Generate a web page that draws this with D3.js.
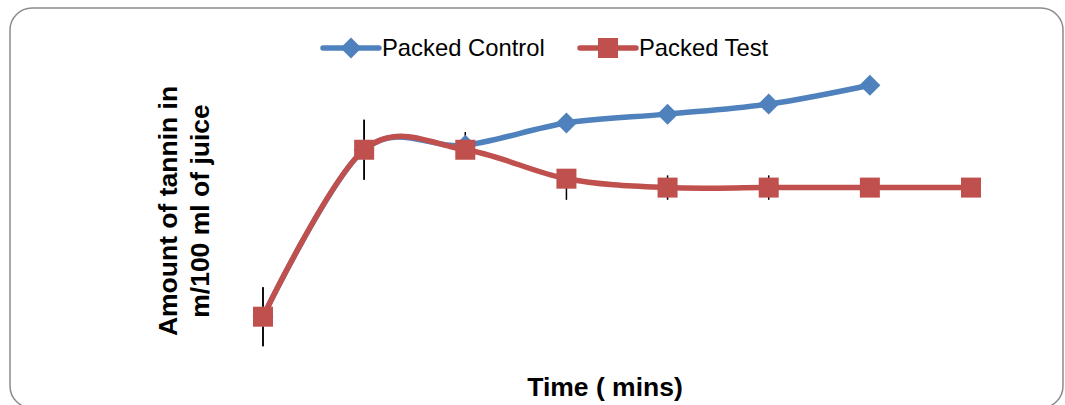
<!DOCTYPE html>
<html><head><meta charset="utf-8">
<script src="https://cdn.jsdelivr.net/npm/d3@7"></script>
<style>body{margin:0;background:#fff}svg{display:block}</style>
</head><body>
<svg id="c" width="1065" height="405"></svg>
<script>
const timePoints = [1, 2, 3, 4, 5, 6, 7, 8];
const seriesNames = ["Packed Control", "Packed Test"];
const controlValues = [10, 25, 25.4, 27.4, 28.2, 29.1, 30.8];
const testValues = [10, 25, 25, 22.4, 21.6, 21.6, 21.6, 21.6];
const controlErrors = [2.65, 2.7, 1.2, 0, 0, 0, 0];
const testErrors = [2.65, 2.7, 0, 1.1, 1.1, 1.1, 1.1, 0];
const colors = ["#4F81BD", "#C0504D"];

const svg = d3.select("#c");
// rounded frame
svg.append("rect").attr("x", 10).attr("y", 8).attr("width", 1053).attr("height", 400)
  .attr("rx", 22).attr("fill", "#fff").attr("stroke", "#8c8c8c").attr("stroke-width", 1.5);

const x = d3.scaleLinear().domain([1, 8]).range([263, 971]);
const y = d3.scaleLinear().domain([0, 35]).range([428, 38.45]);

const line = d3.line().x((d, i) => x(timePoints[i])).y(d => y(d)).curve(d3.curveCardinal.tension(0));

const data = [
  {vals: controlValues, errs: controlErrors, color: colors[0], shape: "diamond"},
  {vals: testValues, errs: testErrors, color: colors[1], shape: "square"}
];

// error bars
data.forEach(s => {
  svg.append("g").selectAll("line").data(s.vals).join("line")
    .filter((d, i) => s.errs[i] > 0)
    .attr("x1", (d, i) => x(timePoints[i])).attr("x2", (d, i) => x(timePoints[i]))
    .attr("y1", (d, i) => y(d + s.errs[i])).attr("y2", (d, i) => y(d - s.errs[i]))
    .attr("stroke", "#000").attr("stroke-width", 1.5);
});

function drawMarker(g, shape, color, cx, cy) {
  if (shape === "square") {
    g.append("rect").attr("x", cx - 10).attr("y", cy - 10).attr("width", 20).attr("height", 20).attr("fill", color);
  } else {
    g.append("path").attr("d", "M0,-10.5L10.5,0L0,10.5L-10.5,0Z").attr("transform", `translate(${cx},${cy})`).attr("fill", color);
  }
}

data.forEach(s => {
  svg.append("path").attr("d", line(s.vals)).attr("fill", "none")
    .attr("stroke", s.color).attr("stroke-width", 5.5).attr("stroke-linecap", "round");
  const g = svg.append("g");
  s.vals.forEach((v, i) => drawMarker(g, s.shape, s.color, x(timePoints[i]), y(v)));
});

// legend
const legend = [
  {name: seriesNames[0], color: colors[0], shape: "diamond", x0: 323},
  {name: seriesNames[1], color: colors[1], shape: "square", x0: 580}
];
legend.forEach(l => {
  const g = svg.append("g");
  g.append("line").attr("x1", l.x0).attr("x2", l.x0 + 56).attr("y1", 48).attr("y2", 48)
    .attr("stroke", l.color).attr("stroke-width", 5.5).attr("stroke-linecap", "round");
  drawMarker(g, l.shape, l.color, l.x0 + 28, 48);
  g.append("text").attr("x", l.x0 + 59).attr("y", 56).text(l.name)
    .attr("font-family", "Liberation Sans, Arial, sans-serif").attr("font-size", 23.8).attr("fill", "#000");
});

// axis titles
svg.append("text").attr("x", 605).attr("y", 396).attr("text-anchor", "middle")
  .attr("font-family", "Liberation Sans, Arial, sans-serif").attr("font-weight", "bold").attr("font-size", 26.5)
  .text("Time ( mins)");
const yt = svg.append("text").attr("transform", "translate(177,211) rotate(-90)").attr("text-anchor", "middle")
  .attr("font-family", "Liberation Sans, Arial, sans-serif").attr("font-weight", "bold").attr("font-size", 26.5);
yt.append("tspan").attr("x", 0).attr("dy", 0).text("Amount of tannin in");
yt.append("tspan").attr("x", 0).attr("dy", 32).text("m/100 ml of juice");
</script>
</body></html>
